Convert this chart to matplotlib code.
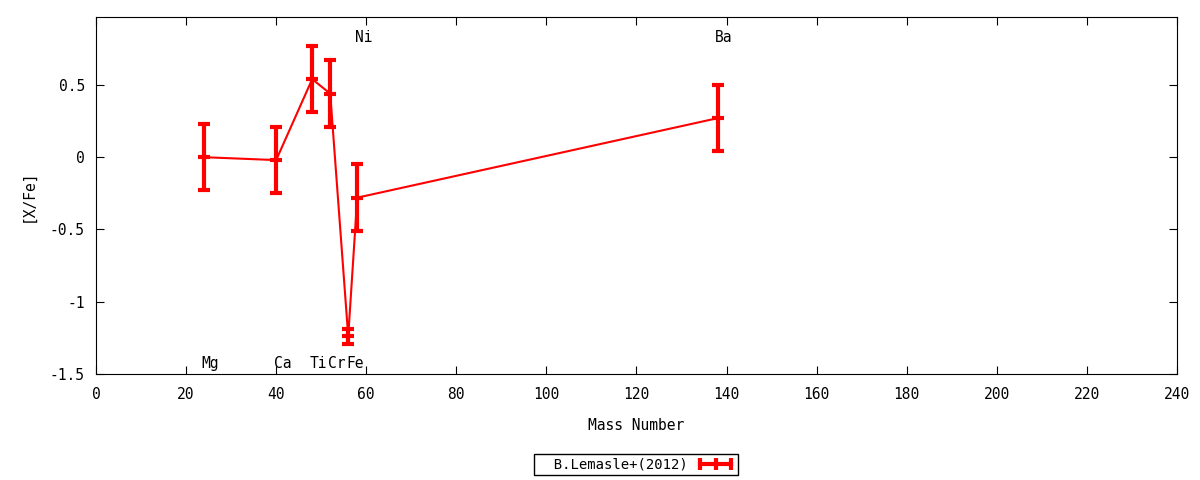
import matplotlib
matplotlib.use('Agg')
import matplotlib.pyplot as plt
from matplotlib.lines import Line2D

plt.rcParams['font.family'] = ['DejaVu Sans Mono']

# 데이터
elements = ['Mg', 'Ca', 'Ti', 'Cr', 'Fe', 'Ni', 'Ba']
mass = [24, 40, 48, 52, 56, 58, 138]
xfe = [0.0, -0.02, 0.54, 0.44, -1.24, -0.28, 0.27]
err = [0.23, 0.23, 0.23, 0.23, 0.05, 0.23, 0.23]
label_pos = ['bottom', 'bottom', 'bottom', 'bottom', 'bottom', 'top', 'top']

fig = plt.figure(figsize=(12, 4.8), dpi=100)
ax = fig.add_axes([0.0800, 0.2208, 0.9008, 0.7438])

ax.plot(mass, xfe, color='red', lw=1.5, zorder=2)
ax.errorbar(mass, xfe, yerr=err, fmt='_', color='red', ms=9, mew=3,
            elinewidth=3, capsize=4, capthick=3, zorder=3)

for name, m, pos in zip(elements, mass, label_pos):
    y = -1.43 if pos == 'bottom' else 0.83
    ax.text(m - 0.5, y, name, ha='left', va='center', fontsize=10.5)

ax.set_xlim(0, 240)
ax.set_ylim(-1.5, 0.97)
ax.set_xticks(range(0, 241, 20))
ax.set_yticks([-1.5, -1, -0.5, 0, 0.5])
ax.set_yticklabels(['-1.5', '-1', '-0.5', '0', '0.5'])
ax.tick_params(direction='in', top=True, right=True, length=6, labelsize=10.5)
ax.tick_params(axis='x', pad=9)
ax.tick_params(axis='y', pad=8)
ax.set_xlabel('Mass Number', fontsize=10.5, labelpad=12)
ax.set_ylabel('[X/Fe]', fontsize=10.5, labelpad=10)

proxy = Line2D([], [], color='red', lw=3, marker='|', ms=9, mew=3)
fig.legend(handles=[proxy], labels=['  B.Lemasle+(2012)'], loc='center',
           bbox_to_anchor=(0.53, 0.032), markerfirst=False, numpoints=3,
           fancybox=False, edgecolor='black', framealpha=1, fontsize=10,
           borderpad=0.25, handlelength=2.8, handletextpad=0.6)

fig.savefig('out.png', dpi=100)
